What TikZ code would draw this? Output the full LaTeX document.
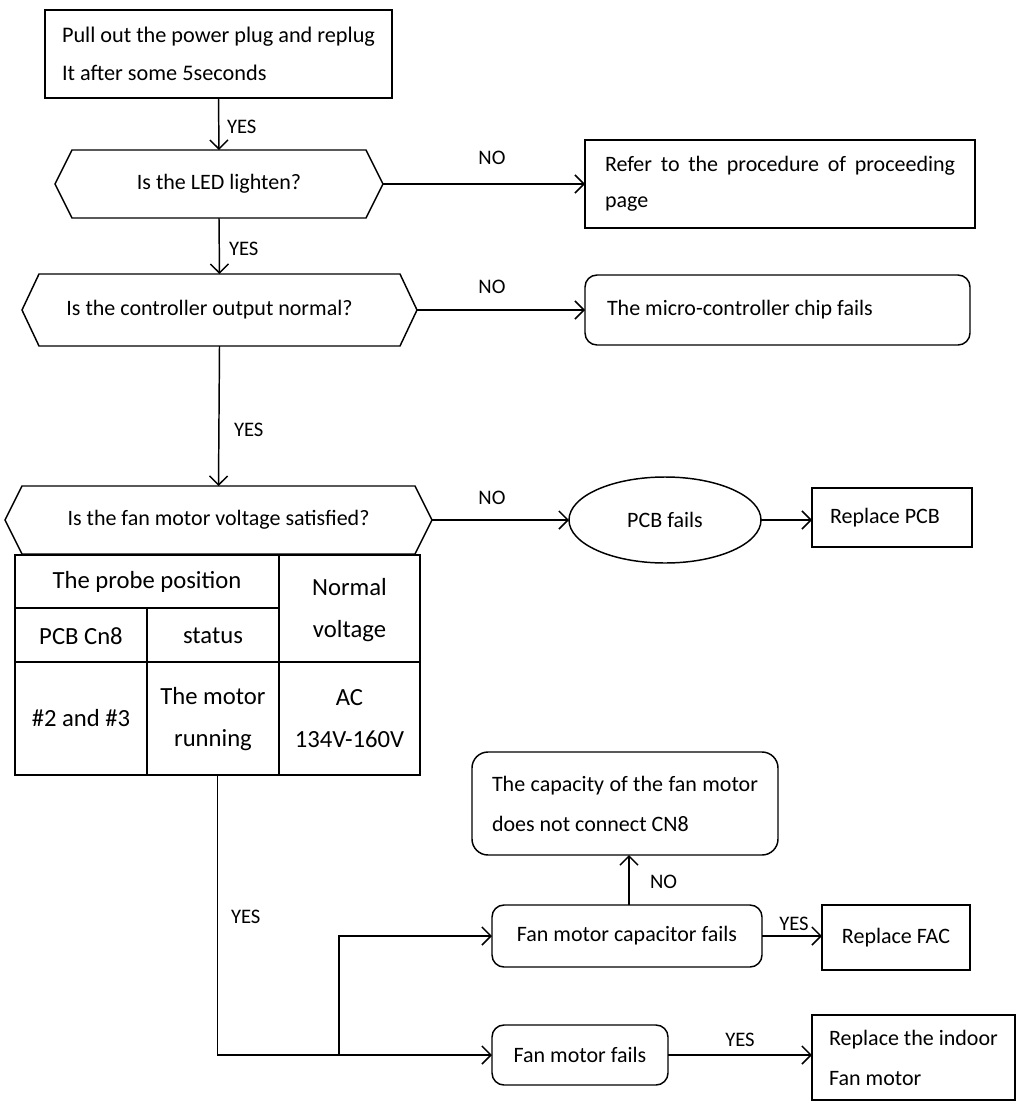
\documentclass[tikz,border=0pt]{standalone}
\usepackage{fontspec}
\setmainfont{Carlito}
\usetikzlibrary{arrows.meta,shapes.geometric}
\newdimen\px \px=0.75pt
\newcommand\mainf{\fontsize{16.5}{27.5}\selectfont}
\newcommand\tabf{\fontsize{18.5}{31}\selectfont}
\newcommand\lblf{\fontsize{15.5}{18}\selectfont}
\begin{document}
\begin{tikzpicture}[x=0.75pt,y=-0.75pt,line width=1.1pt,
  every node/.style={inner sep=0pt,outer sep=0pt},
  conn/.style={draw,-{Straight Barb[length=6.75pt,width=13.5pt,line width=1.1pt]}},
  boxl/.style={draw,rectangle,font=\mainf,align=left},
  rboxl/.style={boxl,rounded corners=12\px},
  hexn/.style={rectangle,font=\mainf,align=center},
  lbl/.style={font=\lblf},
  tabtxt/.style={font=\tabf,align=center}]
\useasboundingbox (0,0) rectangle (1020,1103);

% boxes
\node[boxl,inner xsep=17\px,text width=313\px,align=flush left,minimum height=88\px,
  font=\fontsize{16.7}{28.5}\selectfont] (start) at (218.5,54)
  {Pull out the power plug and replug\\It after some 5seconds};
\node[hexn,minimum width=328\px,minimum height=68\px] (led) at (219,184) {Is the LED lighten?};
\node[hexn,minimum width=395\px,minimum height=72\px] (ctrl) at (219.5,310) {Is the controller output normal?\hspace*{20\px}};
\node[hexn,minimum width=427\px,minimum height=68\px] (fan) at (218.5,520) {Is the fan motor voltage satisfied?};

\foreach \n in {led,ctrl,fan}{
  \draw (\n.west) -- ([xshift=17\px]\n.north west) -- ([xshift=-17\px]\n.north east)
    -- (\n.east) -- ([xshift=-17\px]\n.south east) -- ([xshift=17\px]\n.south west) -- cycle;
}

\node[boxl,minimum width=390\px,minimum height=88\px,font=\fontsize{16.5}{27}\selectfont] (refer) at (780,184)
  {\makebox[350\px][s]{Refer to the procedure of proceeding}\\page};
\node[rboxl,inner xsep=22\px,text width=341\px,align=flush left,minimum height=70\px] (micro) at (777.5,310)
  {The micro-controller chip fails};
\node[draw,ellipse,font=\mainf,minimum width=192\px,minimum height=86\px] (pcb) at (665,520) {PCB fails};
\node[boxl,inner xsep=18\px,text width=124\px,align=flush left,minimum height=59\px] (rpcb) at (892,517.5) {Replace PCB};

% table
\node[draw,rectangle,minimum width=405\px,minimum height=220\px] (tbl) at (217.5,665) {};
\draw (15,608) -- (279,608);
\draw (15,662) -- (420,662);
\draw (147,608) -- (147,775);
\draw (279,555) -- (279,775);
\node[tabtxt] (t1) at (147,582) {The probe position};
\node[tabtxt] (t2) at (81,636) {PCB Cn8};
\node[tabtxt] (t3) at (213,636) {status};
\node[tabtxt] (t4) at (349.5,610) {Normal\\voltage};
\node[tabtxt] (t5) at (81,718) {\#2 and \#3};
\node[tabtxt,font=\fontsize{18.5}{31.5}\selectfont] (t6) at (213,719) {The motor\\running};
\node[tabtxt,font=\fontsize{18.5}{31.5}\selectfont] (t7) at (349.5,719) {AC\\134V-160V};

% lower part
\node[rboxl,inner xsep=20\px,text width=266\px,align=flush left,minimum height=103\px,rounded corners=16\px,font=\fontsize{16.5}{30}\selectfont] (cap) at (625,803.5)
  {\makebox[266\px][s]{The capacity of the fan motor}\\does not connect CN8};
\node[rboxl,align=center,minimum width=270\px,minimum height=62\px] (fmc) at (627,936) {Fan motor capacitor fails};
\node[boxl,align=center,minimum width=148\px,minimum height=65\px] (fac) at (896,937.5) {Replace FAC};
\node[rboxl,align=center,minimum width=176\px,minimum height=60\px] (fmf) at (580,1055) {Fan motor fails};
\node[boxl,minimum width=203\px,minimum height=85\px,font=\fontsize{16.5}{30}\selectfont] (indoor) at (913.5,1057.5)
  {Replace the indoor\\Fan motor};

% connectors
\draw[conn] (start.south) -- (led.north);
\draw[conn] (led.south) -- (ctrl.north);
\draw[conn] (ctrl.south) -- (fan.north);
\draw[conn] (led.east) -- (refer.west);
\draw[conn] (ctrl.east) -- (micro.west);
\draw[conn] (fan.east) -- (pcb.west);
\draw[conn] (pcb.east) -- (pcb.east -| rpcb.west);
\coordinate (jb) at (339,1055);
\draw[conn] (tbl.south) |- (fmf.west);
\draw[conn] (jb) |- (fmc.west);
\draw[conn] ([xshift=2\px]fmc.north) -- ([xshift=2\px]fmc.north |- cap.south);
\draw[conn] (fmc.east) -- (fmc.east -| fac.west);
\draw[conn] (fmf.east) -- (fmf.east -| indoor.west);

% labels
\node[lbl,anchor=west] (y1) at (227,127) {YES};
\node[lbl,anchor=west] (y2) at (229,249) {YES};
\node[lbl,anchor=west] (y3) at (234,430) {YES};
\node[lbl,anchor=west] (y4) at (231,917) {YES};
\node[lbl] (n1) at (492,158) {NO};
\node[lbl] (n2) at (492,287) {NO};
\node[lbl] (n3) at (492,498) {NO};
\node[lbl,anchor=west] (n4) at (650,882) {NO};
\node[lbl] (y5) at (794,924) {YES};
\node[lbl] (y6) at (740,1040) {YES};
\end{tikzpicture}
\end{document}
